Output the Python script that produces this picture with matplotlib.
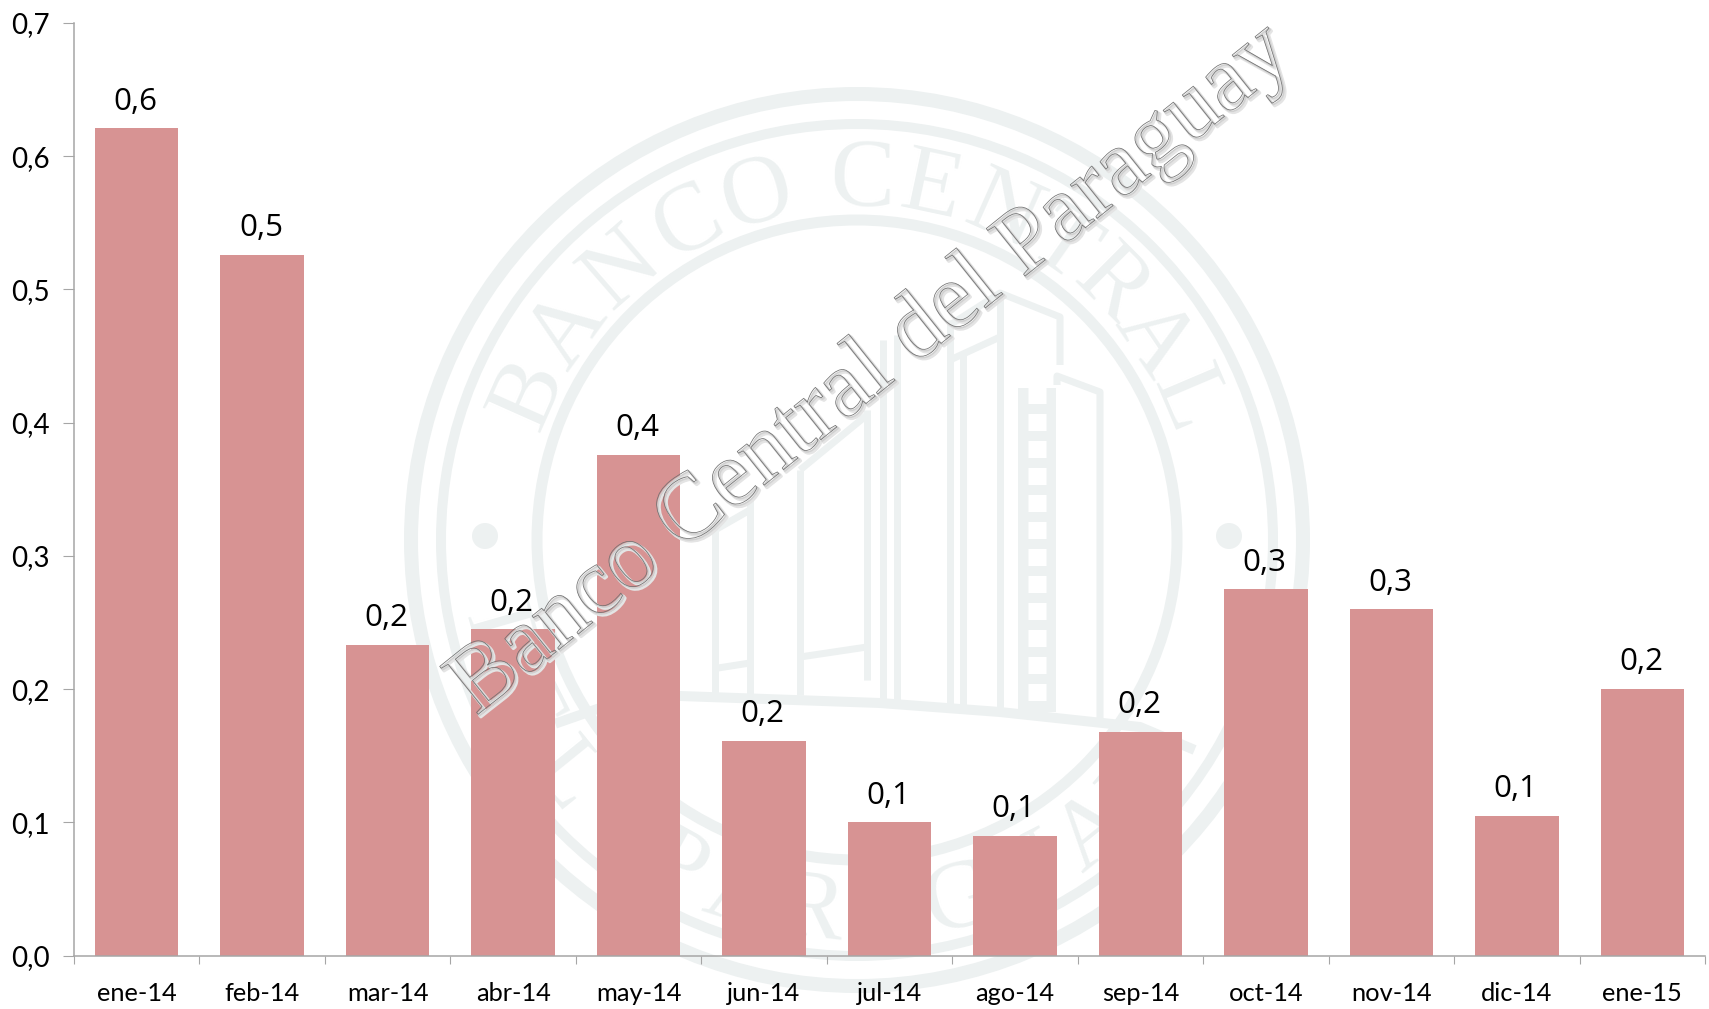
import numpy as np
import matplotlib
matplotlib.use('Agg')
import matplotlib.pyplot as plt
import matplotlib.patheffects as pe
from matplotlib.patches import Circle

months = ['ene-14', 'feb-14', 'mar-14', 'abr-14', 'may-14', 'jun-14', 'jul-14',
          'ago-14', 'sep-14', 'oct-14', 'nov-14', 'dic-14', 'ene-15']
values = [0.621, 0.526, 0.233, 0.245, 0.376, 0.161, 0.100,
          0.090, 0.168, 0.275, 0.260, 0.105, 0.200]
bar_labels = ['0,6', '0,5', '0,2', '0,2', '0,4', '0,2', '0,1',
              '0,1', '0,2', '0,3', '0,3', '0,1', '0,2']
y_ticks = [0.0, 0.1, 0.2, 0.3, 0.4, 0.5, 0.6, 0.7]
y_tick_labels = ['0,0', '0,1', '0,2', '0,3', '0,4', '0,5', '0,6', '0,7']

W, H = 1709, 1009
BAR_COLOR = '#D79393'
AXIS_COLOR = '#A6A6A6'
SEAL_COLOR = '#EDF1F1'
PX = 72 / 100  # one pixel in points

fig = plt.figure(figsize=(W / 100, H / 100), dpi=100, facecolor='white')

# seal in the background, drawn in pixel coordinates
seal = fig.add_axes([0, 0, 1, 1], zorder=0)
seal.set_xlim(0, W)
seal.set_ylim(H, 0)
seal.axis('off')

cx, cy = 857, 540
for r, lw in [(446, 14), (416, 10), (320, 11)]:
    seal.add_patch(Circle((cx, cy), r, fill=False, ec=SEAL_COLOR, lw=lw * PX))
for dot_x in [485, 1229]:
    seal.add_patch(Circle((dot_x, 536), 13, fc=SEAL_COLOR, ec='none'))


def arc_text(letters, angles, radius, bottom=False):
    # place the letters one by one along a circle
    for ang, ch in zip(angles, letters):
        a = np.radians(ang)
        x = cx + radius * np.sin(a)
        y = cy - radius * np.cos(a)
        rot = -ang if not bottom else 180 - ang
        seal.text(x, y, ch, color=SEAL_COLOR, family='Liberation Serif', fontsize=70,
                  rotation=rot, rotation_mode='anchor', ha='center', va='baseline')


arc_text('BANCOCENTRAL', [-66, -54, -41, -28, -16, 1, 12, 24, 35, 45, 56, 67], 334)
arc_text('DELPARAGUAY', [254, 243, 231, 209, 198, 187, 175, 164, 153, 141, 130], 400, bottom=True)

# building outline
building = [
    [(715, 700), (715, 530)], [(750, 700), (750, 500)], [(715, 530), (750, 510)],
    [(718, 668), (750, 663)],
    [(800, 695), (800, 470)], [(867, 680), (867, 410)], [(800, 470), (867, 415)],
    [(800, 657), (867, 647)],
    [(883, 702), (883, 340)], [(897, 702), (897, 335)],
    [(950, 705), (950, 320)], [(963, 706), (963, 355)], [(950, 360), (1000, 337)],
    [(950, 325), (1000, 293), (1060, 317), (1060, 365)],
    [(1000, 293), (1000, 712)],
    [(1100, 725), (1100, 392), (1057, 376), (1057, 385)],
]
for line in building:
    xs, ys = zip(*line)
    seal.plot(xs, ys, color=SEAL_COLOR, lw=7 * PX, solid_capstyle='butt')
seal.plot([560, 620, 680, 880, 1000, 1140, 1190], [722, 701, 696, 703, 712, 727, 748],
          color=SEAL_COLOR, lw=10 * PX)
# ladder of windows: grey column with white slots
seal.plot([1037, 1037], [388, 712], color=SEAL_COLOR, lw=38 * PX, solid_capstyle='butt')
for slot_y in np.arange(395, 700, 27):
    seal.plot([1028, 1046], [slot_y, slot_y], color='white', lw=17 * PX, solid_capstyle='butt')

# bar chart
ax = fig.add_axes([74 / W, 1 - 955.7 / H, (1705 - 74) / W, (955.7 - 23) / H], zorder=1)
ax.patch.set_visible(False)
x = np.arange(len(months))
ax.bar(x, values, width=0.665, color=BAR_COLOR)
ax.set_xlim(-0.5, len(months) - 0.5)
ax.set_ylim(0, 0.7)

for side in ['top', 'right']:
    ax.spines[side].set_visible(False)
for side in ['left', 'bottom']:
    ax.spines[side].set_color(AXIS_COLOR)
    ax.spines[side].set_linewidth(1.1)

ax.set_yticks(y_ticks)
ax.set_yticklabels(y_tick_labels, family='Lato', fontsize=20, color='black')
ax.tick_params(axis='y', length=11 * PX, width=0.8, color=AXIS_COLOR, pad=9.5)

ax.set_xticks(x)
ax.set_xticklabels(months, family='Lato', fontsize=18.3, color='black')
ax.set_xticks(np.arange(len(months) + 1) - 0.5, minor=True)
ax.tick_params(axis='x', which='major', length=0, pad=19)
ax.tick_params(axis='x', which='minor', length=8 * PX, width=0.8, color=AXIS_COLOR)

for xi, v, lab in zip(x, values, bar_labels):
    ax.annotate(lab, (xi - 0.01, v), xytext=(0, 13.5), textcoords='offset points', ha='center',
                va='baseline', family='Open Sans', fontsize=22.5, color='black')

# watermark across the chart, letters are only outlined
fig.text(476 / W, 1 - 716 / H, 'Banco Central del Paraguay', family='Liberation Serif',
         fontsize=67.5, color=(1, 1, 1, 0), rotation=38.7, rotation_mode='anchor',
         ha='left', va='baseline', zorder=5,
         path_effects=[pe.Stroke(linewidth=2, foreground='#e4e4e4', offset=(2, -2)),
                       pe.Stroke(linewidth=1.2, foreground='#d0d0d0', offset=(1, -1)),
                       pe.Stroke(linewidth=0.55, foreground='#707070')])

fig.savefig('out.png', dpi=100)
